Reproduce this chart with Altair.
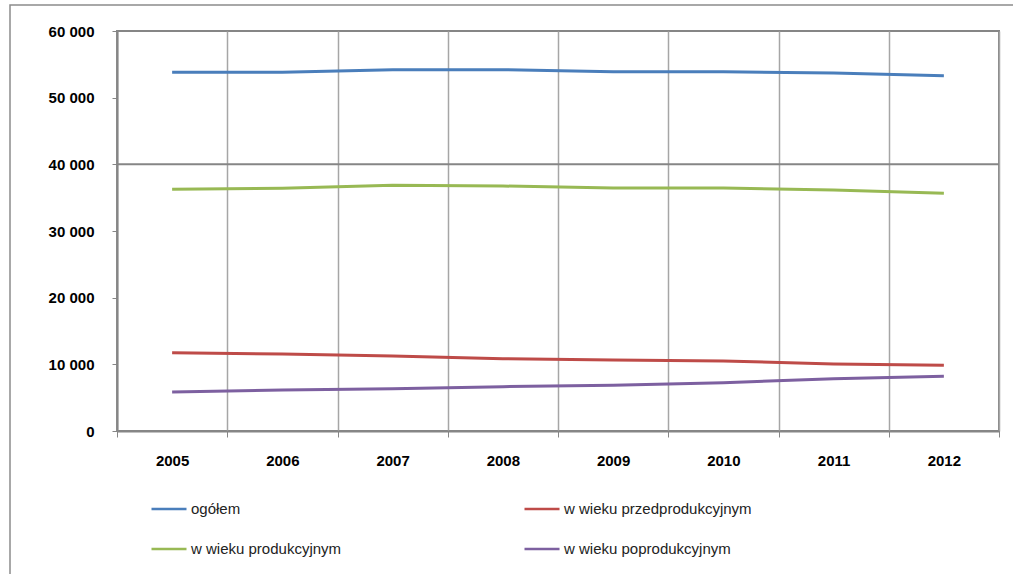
import altair as alt
import pandas as pd

years = ["2005", "2006", "2007", "2008", "2009", "2010", "2011", "2012"]
series_names = ["ogółem", "w wieku przedprodukcyjnym", "w wieku produkcyjnym", "w wieku poprodukcyjnym"]
ogolem = [53800, 53800, 54200, 54200, 53900, 53900, 53700, 53300]
przed = [11750, 11550, 11250, 10850, 10650, 10500, 10050, 9850]
prod = [36250, 36400, 36850, 36750, 36450, 36450, 36150, 35650]
poprod = [5850, 6150, 6350, 6650, 6850, 7250, 7850, 8200]
colors = ["#4A7EBB", "#BE4B48", "#98B954", "#7D60A0"]

rows = []
for name, vals in zip(series_names, [ogolem, przed, prod, poprod]):
    for y, v in zip(years, vals):
        rows.append({"rok": y, "seria": name, "wartosc": v})
df = pd.DataFrame(rows)

# legend is filled column by column: ogółem / produkcyjnym in column 1
legend_order = [series_names[0], series_names[2], series_names[1], series_names[3]]
legend_colors = [colors[0], colors[2], colors[1], colors[3]]

FONT = "Liberation Sans"

lines = alt.Chart(df).mark_line(strokeWidth=3).encode(
    x=alt.X("rok:N", bandPosition=0.5, sort=years,
            scale=alt.Scale(type="band", paddingInner=0, paddingOuter=0),
            axis=alt.Axis(title=None, labelAngle=0, grid=True, tickBand="extent",
                          gridColor="#A6A6A6", gridWidth=1.5, domainColor="#868686",
                          domainWidth=2, tickColor="#868686", tickSize=6,
                          labelPadding=16, labelFont=FONT, labelFontSize=15,
                          labelFontWeight="bold", labelColor="#000")),
    y=alt.Y("wartosc:Q", scale=alt.Scale(domain=[0, 60000]),
            axis=alt.Axis(title=None, values=[0, 10000, 20000, 30000, 40000, 50000, 60000],
                          grid=False, domainColor="#868686", domainWidth=2,
                          tickColor="#868686", tickSize=5, labelPadding=18,
                          labelFont=FONT, labelFontSize=15, labelFontWeight="bold",
                          labelColor="#000",
                          labelExpr="replace(format(datum.value, ',d'), ',', ' ')")),
    color=alt.Color("seria:N", sort=legend_order,
                    scale=alt.Scale(domain=legend_order, range=legend_colors),
                    legend=alt.Legend(title=None, orient="none", legendX=33, legendY=459,
                                      columns=2, columnPadding=177, rowPadding=13,
                                      symbolType="stroke", symbolSize=1225,
                                      symbolStrokeWidth=2.5, labelOffset=3, labelLimit=400,
                                      labelFont=FONT, labelFontSize=15, labelColor="#222")),
)

grid40 = alt.Chart(pd.DataFrame({"y": [40000]})).mark_rule(color="#868686", strokeWidth=2).encode(
    y=alt.Y("y:Q", scale=alt.Scale(domain=[0, 60000]))
)

frame = alt.Chart(pd.DataFrame({"a": [0]})).mark_rect(fill=None, stroke="#8C8C8C", strokeWidth=1.5).encode(
    x=alt.value(-107), x2=alt.value(910), y=alt.value(-26), y2=alt.value(560)
)

chart = alt.layer(frame, grid40, lines).properties(
    width=882, height=400,
    autosize=alt.AutoSizeParams(type="none"),
    padding={"left": 117, "top": 31, "right": 14, "bottom": 143},
).configure_view(stroke="#868686", strokeWidth=2)

chart.save("out.html", embed_options={"renderer": "svg", "actions": False})
